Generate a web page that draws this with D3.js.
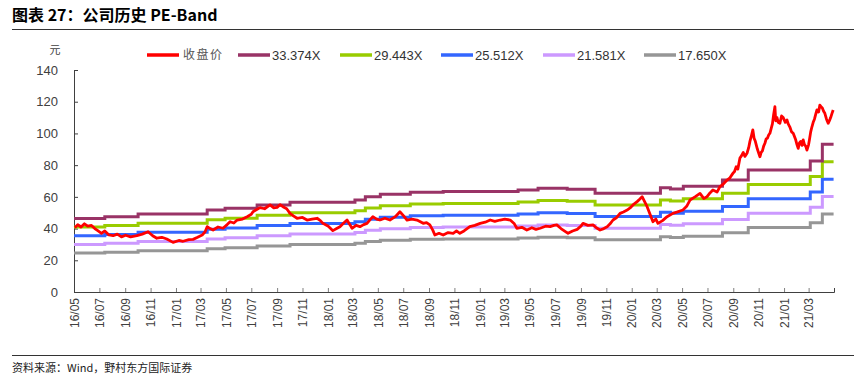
<!DOCTYPE html>
<html>
<head>
<meta charset="utf-8">
<script src="https://cdn.jsdelivr.net/npm/d3@7"></script>
<style>
  body { margin: 0; background: #fff; }
  text { font-family: "Liberation Sans", Arial, "Noto Sans CJK SC", sans-serif; }
  .cjk { font-family: "Noto Sans CJK SC", sans-serif; }
</style>
</head>
<body>
<div id="chart"></div>
<script>
// ==== data ====
const closeDates = [
  "2016-05-03","2016-05-10","2016-05-18","2016-05-26","2016-06-03","2016-06-12","2016-06-20","2016-06-28",
  "2016-07-06","2016-07-14","2016-07-24","2016-08-03","2016-08-13","2016-08-23","2016-09-02","2016-09-14",
  "2016-09-29","2016-10-12","2016-10-26","2016-11-06","2016-11-16","2016-11-28","2016-12-10","2016-12-25",
  "2017-01-08","2017-01-18","2017-02-01","2017-02-11","2017-02-22","2017-03-05","2017-03-12","2017-03-17",
  "2017-03-24","2017-03-31","2017-04-12","2017-04-24","2017-05-04","2017-05-11","2017-05-20","2017-05-28",
  "2017-06-10","2017-06-21","2017-07-01","2017-07-05","2017-07-14","2017-07-22","2017-08-02","2017-08-15",
  "2017-08-24","2017-09-01","2017-09-08","2017-09-15","2017-09-24","2017-10-02","2017-10-10","2017-10-19",
  "2017-11-01","2017-11-12","2017-11-24","2017-12-06","2017-12-14","2017-12-20","2018-01-02","2018-01-13",
  "2018-01-22","2018-01-30","2018-02-08","2018-02-16","2018-02-24","2018-02-28","2018-03-10","2018-03-19",
  "2018-03-28","2018-04-05","2018-04-12","2018-04-19","2018-04-28","2018-05-06","2018-05-18","2018-05-30",
  "2018-06-12","2018-06-23","2018-07-02","2018-07-10","2018-07-22","2018-08-03","2018-08-10","2018-08-18",
  "2018-08-26","2018-09-03","2018-09-10","2018-09-15","2018-09-25","2018-10-05","2018-10-17","2018-10-29",
  "2018-11-06","2018-11-14","2018-11-24","2018-12-08","2018-12-20","2019-01-02","2019-01-14","2019-01-26",
  "2019-02-06","2019-02-19","2019-03-02","2019-03-15","2019-03-25","2019-03-31","2019-04-12","2019-04-24",
  "2019-05-06","2019-05-16","2019-05-26","2019-06-08","2019-06-19","2019-06-28","2019-07-05","2019-07-15",
  "2019-08-01","2019-08-12","2019-08-23","2019-09-01","2019-09-06","2019-09-18","2019-09-30","2019-10-08",
  "2019-10-17","2019-10-26","2019-11-03","2019-11-10","2019-11-17","2019-11-26","2019-12-04","2019-12-12",
  "2019-12-21","2019-12-28","2020-01-04","2020-01-14","2020-01-20","2020-01-26","2020-02-01","2020-02-07",
  "2020-02-14","2020-02-21","2020-02-28","2020-03-04","2020-03-15","2020-03-26","2020-04-02","2020-04-09",
  "2020-04-20","2020-05-03","2020-05-12","2020-05-20","2020-06-01","2020-06-13","2020-06-22","2020-06-30",
  "2020-07-07","2020-07-14","2020-07-24","2020-07-31","2020-08-08","2020-08-17","2020-08-24","2020-08-31",
  "2020-09-04","2020-09-08","2020-09-12","2020-09-17","2020-09-21","2020-09-25","2020-09-29","2020-10-04",
  "2020-10-08","2020-10-11","2020-10-15","2020-10-18","2020-10-21","2020-10-24","2020-10-29","2020-11-04",
  "2020-11-07","2020-11-10","2020-11-13","2020-11-16","2020-11-19","2020-11-22","2020-11-25","2020-11-28",
  "2020-12-01","2020-12-04","2020-12-07","2020-12-10","2020-12-12","2020-12-15","2020-12-18","2020-12-22",
  "2020-12-26","2020-12-30","2021-01-04","2021-01-08","2021-01-11","2021-01-15","2021-01-19","2021-01-23",
  "2021-01-26","2021-01-29","2021-02-01","2021-02-04","2021-02-07","2021-02-10","2021-02-13","2021-02-16",
  "2021-02-19","2021-02-22","2021-02-25","2021-03-01","2021-03-03","2021-03-06","2021-03-09","2021-03-12",
  "2021-03-15","2021-03-18","2021-03-21","2021-03-25","2021-03-28","2021-04-01","2021-04-03","2021-04-06",
  "2021-04-09","2021-04-13","2021-04-17","2021-04-20","2021-04-23","2021-04-26","2021-04-29"
];
const closeValues = [
  40.5,42.5,41.0,43.0,41.5,42.0,40.0,38.5,
  37.0,38.5,36.0,35.5,36.5,34.8,35.8,34.8,
  35.5,36.5,38.0,35.5,33.9,34.5,33.4,31.3,
  32.5,32.0,33.0,33.2,34.5,35.9,38.0,41.2,
  40.0,39.1,41.0,40.2,42.5,44.3,43.5,45.4,
  46.0,47.5,49.0,50.6,52.0,53.2,52.5,54.9,
  53.0,53.4,55.0,53.8,52.5,49.6,48.0,46.5,
  47.0,45.4,46.0,46.5,45.0,43.3,41.5,38.7,
  40.0,41.2,43.5,45.4,42.0,40.2,42.0,41.2,
  42.5,43.3,45.5,47.5,46.0,45.4,46.5,45.4,
  47.5,50.6,48.0,45.4,46.0,45.4,44.5,43.3,
  43.8,42.3,39.0,35.9,37.0,35.9,37.5,37.0,
  38.5,37.0,38.5,41.2,42.0,43.3,44.0,45.4,
  44.5,45.4,46.0,45.4,43.0,40.2,40.8,39.1,
  40.5,39.5,40.2,41.5,41.2,42.0,42.3,40.0,
  37.0,38.5,39.5,41.5,43.3,42.0,42.3,40.5,
  39.1,40.0,41.2,43.0,45.4,47.0,49.6,50.5,
  51.7,53.0,54.9,57.0,58.5,60.1,57.0,53.8,
  49.0,44.3,46.0,43.3,45.0,47.5,48.5,49.6,
  50.5,51.7,54.0,58.0,60.0,62.2,59.0,60.1,
  62.5,64.3,63.0,66.4,68.0,70.6,72.0,74.8,
  76.0,79.0,77.5,84.5,86.0,88.0,85.5,87.5,
  91.0,95.0,99.0,102.2,97.0,95.0,90.0,85.3,
  88.0,89.0,92.0,93.8,96.5,97.0,99.0,100.1,
  103.0,106.0,112.0,116.9,108.0,110.0,107.0,106.4,
  111.0,110.0,107.0,108.5,106.0,104.0,101.0,100.1,
  98.0,96.0,93.0,90.6,94.0,95.0,92.5,95.9,
  93.0,92.0,89.5,93.0,96.0,101.0,104.2,107.0,
  109.0,112.0,114.8,113.5,117.9,116.5,116.0,114.0,
  112.7,109.0,106.4,108.0,110.0,112.5,114.8
];

// trailing EPS used for the bands (step changes)
const epsDates = [
  "2016-05-01","2016-07-14","2016-10-02","2017-03-17","2017-04-29","2017-07-15","2017-10-02",
  "2018-03-07","2018-04-01","2018-05-07","2018-07-18","2018-10-05","2019-04-03","2019-05-21",
  "2019-07-30","2019-10-05","2020-03-10","2020-04-03","2020-05-04","2020-08-06","2020-10-07",
  "2021-03-05","2021-04-03","2021-04-30"
];
const epsValues = [
  1.390,1.423,1.474,1.549,1.582,1.645,1.696,
  1.738,1.801,1.846,1.885,1.897,1.927,1.960,
  1.942,1.864,1.972,1.948,1.996,2.115,2.304,
  2.475,2.790,2.790
];

const bandMultiples = [33.374, 29.443, 25.512, 21.581, 17.650];
const bandLabels = ["33.374X", "29.443X", "25.512X", "21.581X", "17.650X"];
const bandColors = ["#993366", "#99CC00", "#3366FF", "#CC99FF", "#969696"];
const yTicks = [0, 20, 40, 60, 80, 100, 120, 140];

// ==== chart ====
const W = 864, H = 385;
const margin = { top: 70, right: 30, bottom: 93, left: 74 };
const width = 834 - margin.left;
const height = 292 - margin.top;

const parse = d3.timeParse("%Y-%m-%d");

const svg = d3.select("#chart").append("svg")
  .attr("width", W).attr("height", H);

// title + rules
svg.append("text").attr("class", "cjk")
  .attr("x", 12).attr("y", 21)
  .attr("font-size", 16).attr("font-weight", "bold").attr("fill", "#000")
  .text("图表 27：公司历史 PE-Band");
svg.append("line").attr("x1", 12).attr("x2", 854).attr("y1", 29.5).attr("y2", 29.5)
  .attr("stroke", "#333").attr("stroke-width", 1);
svg.append("line").attr("x1", 12).attr("x2", 854).attr("y1", 355.5).attr("y2", 355.5)
  .attr("stroke", "#333").attr("stroke-width", 1);
svg.append("text").attr("class", "cjk")
  .attr("x", 12).attr("y", 372)
  .attr("font-size", 11).attr("fill", "#222")
  .text("资料来源：Wind，野村东方国际证券");

const g = svg.append("g").attr("transform", `translate(${margin.left},${margin.top})`);

const xScale = d3.scaleTime()
  .domain([parse("2016-05-01"), parse("2021-05-01")])
  .range([0, width]);
const yScale = d3.scaleLinear().domain([0, 140]).range([height, 0]);

// axes
const xTicks = d3.timeMonth.every(2).range(parse("2016-05-01"), parse("2021-04-02"));
const xAxis = d3.axisBottom(xScale)
  .tickValues(xTicks)
  .tickFormat(d3.timeFormat("%y/%m"))
  .tickSizeInner(-4).tickSizeOuter(-4);
const yAxis = d3.axisLeft(yScale)
  .tickValues(yTicks)
  .tickSizeInner(-4).tickSizeOuter(0);

const gx = g.append("g").attr("transform", `translate(0,${height})`).call(xAxis);
gx.select(".domain").attr("stroke", "#404040");
gx.selectAll(".tick line").attr("stroke", "#808080");
gx.selectAll(".tick text")
  .attr("font-size", 12).attr("fill", "#404040")
  .attr("transform", "rotate(-90)")
  .attr("text-anchor", "end")
  .attr("x", -6).attr("y", 0).attr("dy", "0.35em");

const gy = g.append("g").call(yAxis);
gy.select(".domain").attr("stroke", "#404040");
gy.selectAll(".tick line").attr("stroke", "#404040");
gy.selectAll(".tick text").attr("font-size", 13).attr("fill", "#404040").attr("x", -16);

svg.append("text").attr("class", "cjk")
  .attr("x", 55).attr("y", 54).attr("text-anchor", "middle")
  .attr("font-size", 11).attr("fill", "#404040").text("元");

// bands
const epsData = epsDates.map((d, i) => ({ date: parse(d), eps: epsValues[i] }));
const bandLine = m => d3.line()
  .curve(d3.curveStepAfter)
  .x(d => xScale(d.date))
  .y(d => yScale(d.eps * m));

bandMultiples.slice().reverse().forEach((m, ri) => {
  const i = bandMultiples.length - 1 - ri;
  g.append("path")
    .datum(epsData)
    .attr("fill", "none")
    .attr("stroke", bandColors[i])
    .attr("stroke-width", 3)
    .attr("d", bandLine(m));
});

// closing price
const closeData = closeDates.map((d, i) => ({ date: parse(d), v: closeValues[i] }));
g.append("path")
  .datum(closeData)
  .attr("fill", "none")
  .attr("stroke", "#FF0000")
  .attr("stroke-width", 2.8)
  .attr("stroke-linejoin", "round")
  .attr("d", d3.line().x(d => xScale(d.date)).y(d => yScale(d.v)));

// legend
const legendItems = [{ label: "收盘价", color: "#FF0000", cjk: true }]
  .concat(bandLabels.map((l, i) => ({ label: l, color: bandColors[i], cjk: false })));
const legendX = [147, 238, 340, 441, 543, 644];
const lg = svg.append("g").attr("transform", "translate(0,55)");
legendItems.forEach((it, i) => {
  lg.append("line")
    .attr("x1", legendX[i]).attr("x2", legendX[i] + 32)
    .attr("stroke", it.color).attr("stroke-width", 3.5);
  lg.append("text")
    .attr("class", it.cjk ? "cjk" : null)
    .attr("x", legendX[i] + (it.cjk ? 36 : 34)).attr("dy", "0.35em")
    .attr("font-size", it.cjk ? 12 : 13)
    .attr("letter-spacing", it.cjk ? 1.5 : 0)
    .attr("fill", it.cjk ? "#555" : "#333")
    .text(it.label);
});
</script>
</body>
</html>
